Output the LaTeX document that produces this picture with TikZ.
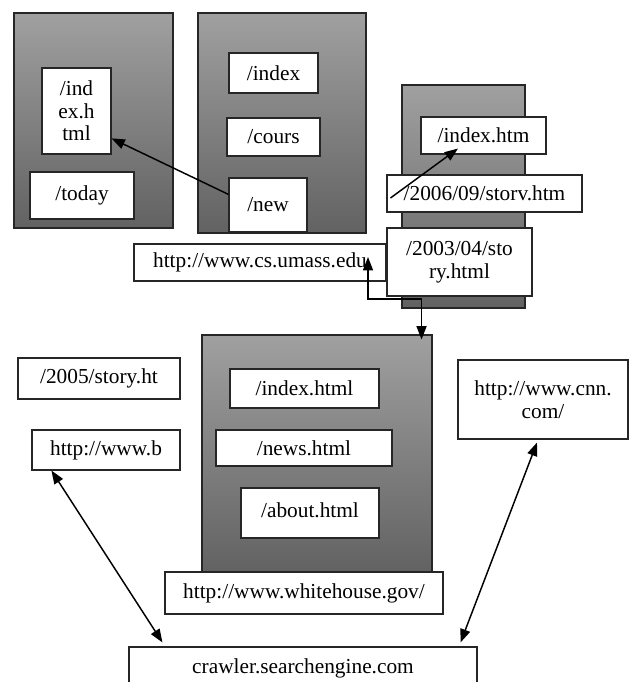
\documentclass[tikz,border=0pt]{standalone}
\usepackage{fontspec}
\setmainfont{Liberation Serif}
\usetikzlibrary{arrows.meta}

\definecolor{grisclair}{RGB}{160,160,160}
\definecolor{grisfonce}{RGB}{98,98,98}

\tikzset{
  serveur/.style={draw=black!85, line width=0.8pt, top color=grisclair, bottom color=grisfonce, inner sep=0pt},
  page/.style={draw=black!85, line width=0.8pt, fill=white, inner sep=0pt, align=center, font=\fontsize{16}{17}\selectfont},
  fleche/.style={-{Triangle[length=10pt,width=7.5pt]}, line width=1.1pt},
  fleches/.style={{Triangle[length=10pt,width=7.5pt]}-{Triangle[length=10pt,width=7.5pt]}, line width=1.1pt}
}

\begin{document}
\begin{tikzpicture}[x=0.75pt, y=-0.75pt]
        \def\px{0.75pt} % taille d'un pixel de l'image
        \useasboundingbox (0,0) rectangle (629,682);
        \clip (0,0) rectangle (629,682);

        % Serveurs (blocs gris)
        \node[serveur, minimum width=159*\px, minimum height=215*\px] (srvA) at (93.5,120.5) {};
        \node[serveur, minimum width=168*\px, minimum height=220*\px] (srvB) at (282,123) {};
        \node[serveur, minimum width=123*\px, minimum height=223*\px] (srvC) at (463.5,196.5) {};
        \node[serveur, minimum width=230*\px, minimum height=237*\px] (srvD) at (317,453.5) {};

        % Pages du premier serveur
        \node[page, minimum width=69*\px, minimum height=86*\px] (idxA) at (76.5,111) {/ind\\ex.h\\tml};
        \node[page, minimum width=104*\px, minimum height=47*\px] (today) at (82,195.5) {/today};

        % Pages du deuxieme serveur
        \node[page, minimum width=89*\px, minimum height=40*\px] (idxB) at (273.5,73) {/index};
        \node[page, minimum width=93*\px, minimum height=38*\px] (cours) at (273.5,137) {/cours};
        \node[page, minimum width=78*\px, minimum height=54*\px] (new) at (268,205) {/new};

        % Pages du troisieme serveur
        \node[page, minimum width=125*\px, minimum height=37*\px] (idxC) at (483.5,135.5) {/index.htm};
        \node[page, minimum width=195*\px, minimum height=37*\px] (storv) at (484.5,193.5) {/2006/09/storv.htm};
        \node[page, minimum width=145*\px, minimum height=68*\px] (sto) at (459.5,262) {/2003/04/sto\\ry.html};
        \node[page, minimum width=252*\px, minimum height=37*\px] (umass) at (260,262.5) {http://www.cs.umass.edu};

        % Pages isolees
        \node[page, minimum width=162*\px, minimum height=41*\px] (story) at (99,378.5) {/2005/story.ht};
        \node[page, minimum width=148*\px, minimum height=40*\px] (wwwb) at (106,450) {http://www.b};
        \node[page, minimum width=170*\px, minimum height=79*\px] (cnn) at (543,399.5) {http://www.cnn.\\com/};

        % Pages du quatrieme serveur
        \node[page, minimum width=149*\px, minimum height=39*\px] (idxD) at (304.5,388.5) {/index.html};
        \node[page, minimum width=176*\px, minimum height=36*\px] (news) at (304,448) {/news.html};
        \node[page, minimum width=138*\px, minimum height=50*\px] (about) at (310,513) {\raisebox{5pt}{/about.html}};
        \node[page, minimum width=278*\px, minimum height=42*\px] (wh) at (304,593) {http://www.whitehouse.gov/};

        % Robot d'indexation
        \node[page, minimum width=348*\px, minimum height=42*\px] (crawler) at (303,668) {crawler.searchengine.com};

        % Liens
        \draw[fleche] (new.165) -- (idxA.-38);
        \draw[fleche] ([xshift=4*\px,yshift=-4.5*\px]storv.west) -- ([xshift=-25.5*\px,yshift=6*\px]idxC.south);
        \draw[fleches] ([xshift=108*\px,yshift=5.5*\px]umass.center) -- ++(0,42) -| ([xshift=-11*\px,yshift=-5*\px]srvD.north east);
        \draw[fleches] ([xshift=20*\px]wwwb.south west) -- ([xshift=34*\px,yshift=4*\px]crawler.north west);
        \draw[fleches] ([xshift=-6*\px,yshift=-3*\px]cnn.south) -- ([xshift=-17*\px,yshift=4*\px]crawler.north east);
\end{tikzpicture}
\end{document}
